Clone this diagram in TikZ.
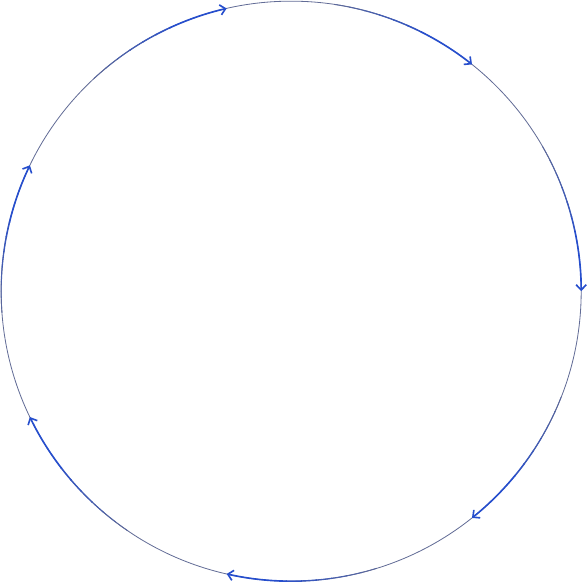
\documentclass[tikz,border=0pt]{standalone}
\usepackage{tikz}
\usetikzlibrary{arrows.meta}
\definecolor{ringgray}{RGB}{98,108,150}
\definecolor{flowblue}{RGB}{38,78,205}
\tikzset{
    ring/.style={draw=ringgray, line width=0.4pt},
    flow/.style={draw=flowblue, line width=0.8pt},
    >={Straight Barb[length=2.6pt,width=5pt]}
}

\begin{document}
\begin{tikzpicture}
	\useasboundingbox (-5.02,-5.02) rectangle (5.10,5.02);
	\draw[ring] (0,0) circle (5);
	\foreach \k in {0,...,6} {
		\pgfmathsetmacro{\e}{-\k*360/7}
		\coordinate (p\k) at (\e:5);
		% blue fades in before each tip
		\foreach \j in {0,...,5} {
			\pgfmathsetmacro{\s}{\e+30-3*\j}
			\pgfmathsetmacro{\t}{\s-3.2}
			\pgfmathsetmacro{\m}{int(12+14*\j)}
			\draw[draw=flowblue!\m!ringgray, line width=0.45pt+0.06pt*\j]
				(\s:5) arc[start angle=\s, end angle=\t, radius=5];
		}
		\draw[flow,->] ({\e+12}:5) arc[start angle={\e+12}, end angle=\e, radius=5];
	}
\end{tikzpicture}
\end{document}
